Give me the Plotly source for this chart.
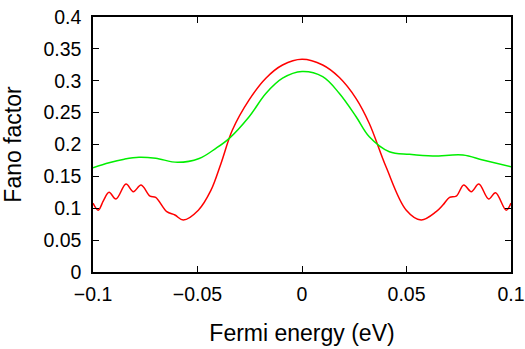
import plotly.graph_objects as go

# Red curve (Fermi energy in eV, Fano factor)
red_x = [-0.1, -0.0975, -0.095, -0.0923, -0.089, -0.0842, -0.0807, -0.0770, -0.0727, -0.070,
         -0.0647, -0.0608, -0.0568, -0.0496, -0.0436, -0.0388, -0.0333, -0.0253, -0.0173, -0.0093,
         0.0, 0.0099, 0.0179, 0.0259, 0.0322, 0.0402, 0.0498, 0.057, 0.0642, 0.0674, 0.0706,
         0.0738, 0.0774, 0.081, 0.0846, 0.0893, 0.0926, 0.0977, 0.1]
red_y = [0.108, 0.097, 0.112, 0.125, 0.1145, 0.138, 0.126, 0.1365, 0.119, 0.117,
         0.0946, 0.0894, 0.0816, 0.097, 0.128, 0.170, 0.2227, 0.270, 0.304, 0.3247,
         0.3336, 0.3247, 0.305, 0.272, 0.233, 0.165, 0.0973, 0.0816, 0.0946, 0.105, 0.117,
         0.119, 0.1365, 0.126, 0.138, 0.1145, 0.1244, 0.097, 0.108]

# Green curve
green_x = [-0.1, -0.0923, -0.085, -0.078, -0.070, -0.0596, -0.0492, -0.0412, -0.0348, -0.0253,
           -0.0173, -0.0093, 0.0, 0.0099, 0.0179, 0.0259, 0.0322, 0.0418, 0.0514, 0.0626,
           0.077, 0.0865, 0.1]
green_y = [0.1636, 0.1715, 0.177, 0.180, 0.1784, 0.172, 0.178, 0.194, 0.2097, 0.2436,
           0.280, 0.304, 0.3145, 0.3064, 0.280, 0.2436, 0.2122, 0.1887, 0.1846, 0.182,
           0.1835, 0.1757, 0.165]

x_ticks = [-0.1, -0.05, 0, 0.05, 0.1]
x_labels = ["\u22120.1", "\u22120.05", "0", "0.05", "0.1"]
y_ticks = [0, 0.05, 0.1, 0.15, 0.2, 0.25, 0.3, 0.35, 0.4]
y_labels = ["0", "0.05", "0.1", "0.15", "0.2", "0.25", "0.3", "0.35", "0.4"]

fig = go.Figure()
fig.add_trace(go.Scatter(x=red_x, y=red_y, mode="lines",
                         line=dict(color="#ff0000", width=1.5, shape="spline", smoothing=1.0)))
fig.add_trace(go.Scatter(x=green_x, y=green_y, mode="lines",
                         line=dict(color="#00ee00", width=1.5, shape="spline", smoothing=1.0)))

font = dict(family="Liberation Sans, Arial, sans-serif", size=19.5, color="black")
fig.update_layout(
    width=525, height=349,
    margin=dict(l=93, r=14, t=17, b=77, autoexpand=False),
    paper_bgcolor="white", plot_bgcolor="white",
    showlegend=False,
    font=font,
    xaxis=dict(range=[-0.1, 0.1], tickvals=x_ticks, ticktext=x_labels,
               ticks="inside", ticklen=6, tickcolor="black", tickwidth=1,
               showline=True, linecolor="black", linewidth=1.5, mirror="ticks",
               showgrid=False, zeroline=False, automargin=False, ticklabelstandoff=4,
               ticklabeloverflow="allow",
               title=dict(text="Fermi energy (eV)", standoff=21)),
    yaxis=dict(range=[0, 0.4], tickvals=y_ticks, ticktext=y_labels,
               ticks="inside", ticklen=6, tickcolor="black", tickwidth=1,
               showline=True, linecolor="black", linewidth=1.5, mirror="ticks",
               showgrid=False, zeroline=False, automargin=False, ticklabelstandoff=6,
               ticklabeloverflow="allow",
               title=dict(text="Fano factor", standoff=16)),
)

fig.write_html("out.html", config={"displayModeBar": False},
               post_script="document.body.style.margin='0';document.body.style.overflow='hidden';")
